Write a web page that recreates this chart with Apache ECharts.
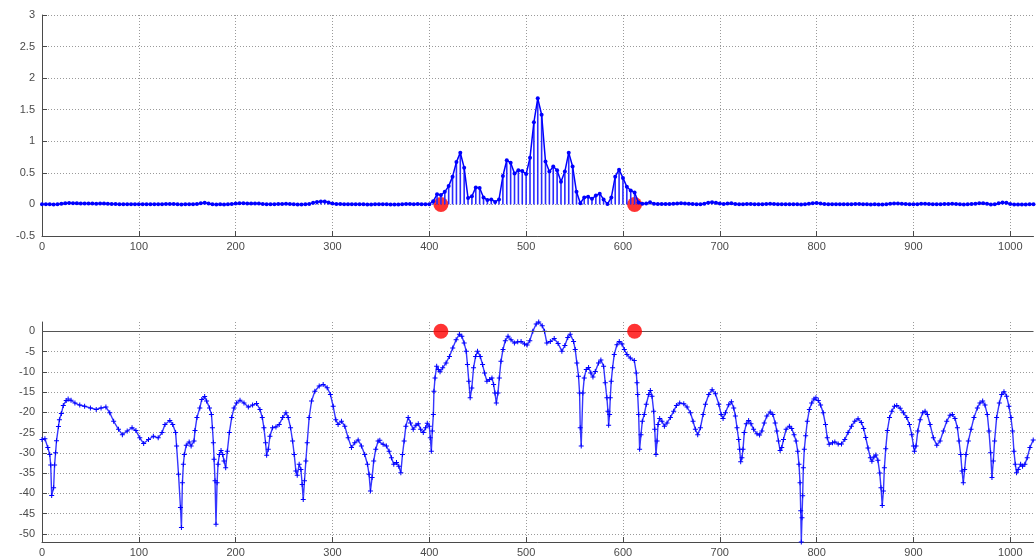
<!DOCTYPE html>
<html>
<head>
<meta charset="utf-8">
<script src="https://cdn.jsdelivr.net/npm/echarts@6/dist/echarts.min.js"></script>
<style>
  html, body { margin: 0; padding: 0; background: #ffffff; }
  #c { width: 1036px; height: 558px; }
</style>
</head>
<body>
<div id="c"></div>
<script>
// Linear magnitude, one value every linStep samples (index 0..1024)
const linStep = 4;
const linY = [
  // 0–96
  0.002,0.002,0.001,0.000,0.004,0.009,0.018,0.021,0.020,0.018,0.015,0.014,0.013,0.013,0.012,0.013,0.013,0.012,0.008,0.005,0.004,0.003,0.0035,0.004,0.0035,
  // 100–196
  0.0025,0.0018,0.002,0.0023,0.0026,0.0023,0.003,0.005,0.006,0.005,0.001,0.000,0.0012,0.0019,0.0017,0.007,0.018,0.025,0.015,0.004,0.000,0.0012,0.0006,0.0016,0.007,
  // 200–296
  0.015,0.020,0.017,0.014,0.015,0.016,0.013,0.006,0.001,0.003,0.0045,0.005,0.007,0.010,0.005,0.001,0.0005,0.0002,0.001,0.008,0.025,0.040,0.048,0.046,0.030,
  // 300–396
  0.015,0.0065,0.006,0.0045,0.0023,0.0014,0.0019,0.002,0.001,0.0005,0.0002,0.0012,0.002,0.0016,0.0015,0.0008,0.0005,0.0004,0.0009,0.005,0.006,0.004,0.005,0.003,0.004,
  // 400–496
  0.004,0.05,0.16,0.15,0.20,0.29,0.44,0.67,0.82,0.58,0.10,0.13,0.27,0.26,0.11,0.07,0.08,0.04,0.08,0.45,0.70,0.66,0.49,0.54,0.53,
  // 500–596
  0.48,0.74,1.30,1.68,1.42,0.68,0.52,0.60,0.54,0.36,0.52,0.82,0.60,0.20,0.02,0.11,0.12,0.09,0.14,0.17,0.08,0.005,0.11,0.44,0.55,
  // 600–696
  0.42,0.28,0.22,0.19,0.03,0.01,0.015,0.035,0.012,0.006,0.006,0.005,0.007,0.011,0.016,0.017,0.016,0.011,0.006,0.003,0.004,0.011,0.027,0.036,0.025,
  // 700–796
  0.013,0.007,0.015,0.018,0.008,0.001,0.002,0.006,0.005,0.0035,0.0028,0.0038,0.008,0.010,0.007,0.002,0.0014,0.0038,0.0045,0.003,0.001,0.000,0.003,0.011,0.020,
  // 800–896
  0.022,0.015,0.007,0.002,0.0018,0.0018,0.0017,0.002,0.003,0.0045,0.006,0.007,0.004,0.0015,0.0006,0.0009,0.0004,0.000,0.003,0.011,0.014,0.014,0.011,0.008,0.004,
  // 900–996
  0.0015,0.003,0.009,0.011,0.006,0.0025,0.0016,0.002,0.005,0.008,0.009,0.005,0.001,0.0003,0.0018,0.005,0.010,0.017,0.019,0.009,0.0006,0.004,0.017,0.031,0.026,
  // 1000–1024
  0.008,0.0008,0.0004,0.0005,0.0006,0.0011,0.0021
];

// Magnitude in dB
const dbX = [
  0,3,6,8,9,10,12,13,14,15,
  17,18,20,22,25,27,30,34,39,44,
  50,56,61,66,70,74,79,83,88,93,
  97,101,105,110,115,120,124,127,132,135,
  138,139,141,143,144,145,146,147,149,152,
  154,157,158,160,163,165,168,170,173,175,
  176,177,177.7,178.7,179.7,180.8,181.8,183.2,184.9,186.6,
  188,189.7,191.4,193.5,195.9,198.3,201,204.5,208.6,213.1,
  217.5,221.6,225.1,227.5,229.2,230.9,232,233.7,235.4,238.1,
  241.6,245,248.5,251.9,254.3,256.7,258.8,260.5,262.2,263.6,
  265.6,267.4,268.7,269.8,271.1,272.5,273.9,275.9,278.4,281.8,
  286.3,290.4,294.5,297.9,300.7,303.4,305.8,309.3,312.7,316.2,
  319.6,323,326.5,329.9,333.3,336.1,337.8,339.2,340.9,342.6,
  344.7,347.1,348.9,352.3,355.7,358.5,360.9,363.3,366.1,368.5,
  370.6,372.3,374,375.8,378.2,380.6,383.4,386.2,388.6,391,
  393.8,396.2,397.9,400,401,402.1,403.1,404.2,404.8,405.9,
  407.6,409.3,411.1,413.8,417.3,420.8,424.2,427.7,431.1,433.6,
  436,438.1,439.4,440.8,442.2,443.9,445.7,447.8,449.8,452.6,
  455,457.1,459.5,462.3,464.7,466.4,467.8,469.2,470.9,472.3,
  474,476.1,478.5,481.3,484.4,487.9,491.3,494.8,498.3,501,
  503.8,506.9,510.4,513,516.6,519,521.4,525,529,533,
  536.9,540,543,545.5,549,550.7,552.4,554.1,555.2,555.9,
  556.9,558.6,560,562.1,564.5,566.9,569,571.4,574.8,577.2,
  580,581.7,583.4,584.5,585.2,586.2,586.9,587.9,589.3,591,
  593.8,596.2,599,601.4,604.1,607.6,611.7,613.8,614.5,615.2,
  616.2,617.2,618.6,620,622,624.1,626.6,628.3,630,631.7,
  632.8,634.1,635.2,636.2,637.9,640.3,642.8,645.5,649,652.4,
  655.2,658.6,662.8,666.2,669.7,672.4,674.8,677.2,680,682.8,
  685.2,688.6,692.1,695.5,699,701.4,703.4,705.8,709.2,712,
  714.4,716.1,717.8,719.5,720.5,721.6,722.9,724,725.3,727.4,
  729.8,732.2,734.9,738.4,741.1,743.5,745.9,748.6,752.1,754.8,
  757.2,758.9,760.6,762.3,764,765.8,768.5,771.9,774.3,776.7,
  778.8,780.5,781.8,782.9,783.6,784.2,784.9,785.6,786.3,787.3,
  788.7,790.4,792.5,794.9,797.3,799.3,801.7,804.1,806.8,809.2,
  811,813,816.4,818.8,822.3,825.7,829.1,832.5,836,839.4,
  842.8,846.2,848.6,850.7,853.1,855.5,857.1,859.2,861.2,863.3,
  865.2,866.5,867.8,869,870,871.4,873.1,875.3,877.7,880.4,
  882.8,886.3,889.7,893.1,895.9,898.3,900,901,902.7,904.5,
  906.9,909.6,912,914.4,917.2,920.6,924.1,927.5,930.9,934.4,
  937.8,940.2,942.9,945.4,947.1,948.8,950.2,951.5,952.9,954.3,
  956.7,959.5,962.5,966,968.7,971.5,973.9,976.3,978,979.7,
  981.1,982.5,983.8,985.9,988.7,991.1,993.5,996.2,998.6,1000.7,
  1002.4,1003.8,1005.2,1006.5,1008.2,1010.7,1012.7,1015.1,1017.5,1020.3,
  1023.7
];
const dbY = [
  -26.7,-26.5,-28.7,-30.4,-33.0,-40.5,-38.6,-33.0,-30.0,-27.0,
  -23.5,-21.8,-20.3,-18.3,-17.1,-16.7,-17.0,-17.7,-18.2,-18.5,
  -18.9,-19.3,-18.9,-18.7,-20.1,-22.2,-24.2,-25.5,-24.6,-23.8,
  -24.5,-26.3,-27.7,-26.7,-25.9,-26.3,-25.0,-23.0,-22.0,-23.0,
  -25.0,-28.3,-35.3,-43.5,-48.4,-37.4,-32.8,-30.4,-28.1,-27.3,
  -28.3,-27.1,-24.5,-21.3,-18.9,-16.8,-16.1,-17.2,-18.9,-20.5,
  -23.8,-27.5,-31.6,-36.9,-47.6,-37.4,-32.8,-30.4,-29.4,-30.4,
  -32.0,-33.7,-29.6,-25.0,-21.3,-18.9,-17.7,-17.0,-17.7,-18.7,
  -18.2,-17.8,-19.3,-21.3,-23.8,-27.5,-30.6,-29.1,-25.9,-23.8,
  -23.6,-23.0,-21.3,-20.1,-21.3,-23.8,-27.1,-30.4,-34.5,-35.5,
  -32.8,-34.1,-37.8,-41.5,-36.9,-32.0,-27.5,-21.3,-17.2,-14.8,
  -13.5,-13.1,-13.9,-15.6,-18.5,-21.8,-23.0,-22.2,-23.4,-26.3,
  -28.7,-27.5,-26.8,-28.3,-30.4,-32.8,-35.3,-39.4,-36.1,-32.0,
  -29.1,-27.1,-26.9,-27.9,-28.3,-29.6,-31.2,-32.8,-32.4,-33.3,
  -34.9,-30.4,-27.1,-23.4,-21.3,-22.6,-24.2,-23.2,-22.8,-24.2,
  -25.0,-23.8,-22.7,-23.4,-26.3,-29.6,-24.6,-20.5,-14.8,-11.5,
  -8.6,-9.4,-10.0,-9.0,-7.8,-6.2,-4.1,-2.1,-0.7,-1.2,
  -2.9,-4.9,-8.2,-12.3,-16.4,-14.0,-9.0,-6.2,-4.9,-6.2,
  -8.2,-10.3,-12.3,-11.9,-11.5,-13.1,-15.2,-17.7,-15.2,-11.5,
  -7.4,-4.5,-2.3,-1.2,-2.1,-2.9,-2.6,-2.5,-3.1,-3.4,
  -2.3,0.0,1.8,2.3,1.4,0.0,-2.9,-2.5,-1.8,-3.0,
  -4.9,-3.5,-1.5,-0.7,-2.5,-4.5,-7.8,-11.1,-15.2,-23.8,
  -28.3,-15.2,-11.5,-9.4,-8.9,-10.3,-11.3,-9.9,-7.8,-7.1,
  -8.6,-12.7,-16.4,-19.7,-23.2,-20.5,-16.4,-12.3,-9.0,-5.7,
  -3.3,-2.5,-3.1,-4.5,-5.7,-6.6,-7.2,-10.3,-12.7,-15.6,
  -20.5,-29.1,-25.5,-22.2,-20.5,-18.0,-15.6,-14.6,-16.0,-19.7,
  -24.2,-30.4,-27.1,-23.0,-21.5,-22.2,-23.4,-22.6,-21.3,-19.7,
  -18.3,-17.7,-17.9,-18.7,-20.1,-22.2,-24.2,-25.5,-23.8,-20.5,
  -18.0,-15.6,-14.4,-15.4,-18.0,-20.5,-21.5,-20.1,-18.1,-17.4,
  -18.9,-20.9,-23.8,-26.7,-29.1,-32.2,-31.2,-29.1,-25.0,-22.8,
  -22.0,-22.8,-24.2,-25.3,-25.6,-24.6,-22.6,-20.9,-19.9,-20.5,
  -22.6,-24.6,-27.1,-29.4,-28.7,-26.7,-24.2,-23.4,-24.0,-25.5,
  -27.1,-29.6,-32.8,-37.4,-44.3,-52.0,-46.0,-40.6,-33.7,-29.1,
  -25.8,-22.2,-19.3,-17.7,-16.7,-16.4,-17.1,-18.2,-20.1,-23.0,
  -26.3,-27.9,-27.5,-27.3,-27.8,-27.8,-26.7,-25.0,-23.4,-22.2,
  -21.6,-22.5,-24.0,-26.2,-28.8,-31.2,-32.1,-31.0,-30.5,-31.8,
  -35.0,-38.6,-43.0,-39.4,-33.7,-29.0,-24.5,-21.3,-19.7,-18.5,
  -18.3,-19.0,-20.1,-21.3,-23.0,-25.5,-28.3,-29.6,-28.3,-24.6,
  -21.8,-20.1,-19.7,-20.5,-23.0,-26.3,-28.1,-27.1,-24.6,-22.2,
  -20.7,-20.5,-21.5,-23.8,-27.1,-30.4,-34.5,-37.4,-34.1,-30.4,
  -27.1,-24.2,-21.3,-18.9,-17.7,-17.2,-18.2,-20.5,-24.6,-30.0,
  -36.1,-32.0,-27.1,-21.3,-17.7,-15.6,-14.9,-16.0,-18.5,-21.3,
  -24.6,-29.6,-32.8,-34.9,-34.1,-32.8,-33.3,-32.8,-31.2,-28.7,
  -26.8
];

// Band edge markers
const edgeX = [412, 612];
const edgeY = [0, 0];

// Axis ranges and tick values
const xRange = [0, 1024], xStep = 100;
const linRange = [-0.5, 3], linTick = 0.5;
const dbRange = [-52, 2.3];
const dbTicks = [-50, -45, -40, -35, -30, -25, -20, -15, -10, -5, 0];

const linData = linY.map((v, i) => [i * linStep, v]);
const dbData = dbX.map((x, i) => [x, dbY[i]]);
const edgeData = edgeX.map((x, i) => [x, edgeY[i]]);

const AXIS = '#4a4a4a';
const LABEL = { color: '#4a4a4a', fontSize: 11, fontFamily: 'Liberation Sans, Arial, sans-serif', formatter: v => String(v) };
const GRIDLINE = { show: true, showMaxLine: false, lineStyle: { color: '#9a9a9a', type: [1, 2], width: 1 } };
const TICK = { show: true, inside: true, length: 5, lineStyle: { color: AXIS } };

function xAxisCfg(gridIndex) {
  return {
    gridIndex, type: 'value', min: xRange[0], max: xRange[1], interval: xStep,
    axisLine: { show: true, onZero: false, lineStyle: { color: AXIS } },
    axisTick: TICK,
    axisLabel: Object.assign({ margin: 5, showMaxLabel: false, hideOverlap: false }, LABEL),
    splitLine: GRIDLINE
  };
}

const plus = 'path://M2,0h1v2h2v1h-2v2h-1v-2h-2v-1h2z';

const chart = echarts.init(document.getElementById('c'), null, { renderer: 'canvas' });
chart.setOption({
  animation: false,
  backgroundColor: '#ffffff',
  grid: [
    { left: 42, top: 15, width: 991.5, height: 221 },
    { left: 42, top: 322, width: 991.5, height: 220.4 }
  ],
  xAxis: [xAxisCfg(0), xAxisCfg(1)],
  yAxis: [
    {
      gridIndex: 0, type: 'value', min: linRange[0], max: linRange[1], interval: linTick,
      axisLine: { show: true, onZero: false, lineStyle: { color: AXIS } },
      axisTick: TICK,
      axisLabel: Object.assign({ margin: 7, showMaxLabel: true, showMinLabel: true }, LABEL),
      splitLine: { show: true, lineStyle: GRIDLINE.lineStyle }
    },
    {
      gridIndex: 1, type: 'value', min: dbRange[0], max: dbRange[1],
      axisLine: { show: true, onZero: false, lineStyle: { color: AXIS } },
      axisTick: Object.assign({ customValues: dbTicks }, TICK),
      axisLabel: Object.assign({ margin: 7, customValues: dbTicks }, LABEL),
      splitLine: { show: true, lineStyle: GRIDLINE.lineStyle }
    }
  ],
  series: [
    {
      type: 'scatter', xAxisIndex: 0, yAxisIndex: 0, data: edgeData,
      symbolSize: 15, itemStyle: { color: '#ff0000' }, z: 1, silent: true
    },
    {
      // stems from zero to each sample
      type: 'custom', xAxisIndex: 0, yAxisIndex: 0, data: linData, z: 2, silent: true,
      renderItem: function (params, api) {
        const p0 = api.coord([api.value(0), 0]);
        const p1 = api.coord([api.value(0), api.value(1)]);
        return {
          type: 'line',
          shape: { x1: p0[0], y1: p0[1], x2: p1[0], y2: p1[1] },
          style: { stroke: '#2a2aff', lineWidth: 1.6 }
        };
      }
    },
    {
      type: 'line', xAxisIndex: 0, yAxisIndex: 0, data: linData, z: 3, silent: true,
      symbol: 'circle', symbolSize: 4, showAllSymbol: true,
      lineStyle: { color: '#0000ff', width: 1.5 }, itemStyle: { color: '#0000ff' }
    },
    {
      type: 'line', xAxisIndex: 1, yAxisIndex: 1, data: dbData, z: 3, silent: true,
      symbol: plus, symbolSize: 5, showAllSymbol: true,
      lineStyle: { color: '#3535ff', width: 1.4 }, itemStyle: { color: '#0000ff' },
      markLine: {
        silent: true, symbol: 'none', label: { show: false },
        lineStyle: { color: '#555555', type: 'solid', width: 1.2 },
        data: [{ yAxis: 0 }]
      }
    },
    {
      type: 'scatter', xAxisIndex: 1, yAxisIndex: 1, data: edgeData,
      symbolSize: 15, itemStyle: { color: '#ff0000' }, z: 5, silent: true
    }
  ]
});
</script>
</body>
</html>
